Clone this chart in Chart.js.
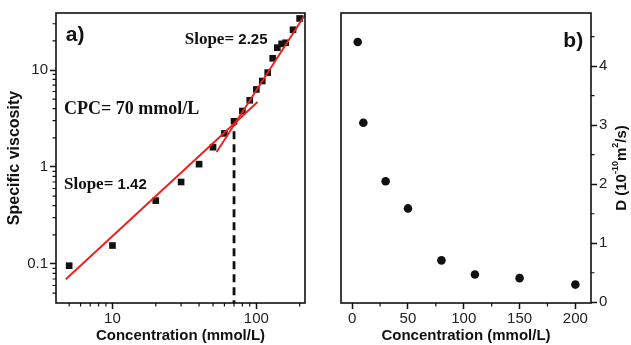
<!DOCTYPE html>
<html>
<head>
<meta charset="utf-8">
<script src="https://cdn.jsdelivr.net/npm/chart.js@4"></script>
<style>
  html, body { margin: 0; padding: 0; background: #fff; }
  #wrap { position: relative; width: 631px; height: 345px; }
  canvas { position: absolute; top: 0; }
  #chartA { left: 0; }
  #chartB { left: 320px; }
</style>
</head>
<body>
<div id="wrap">
  <canvas id="chartA" width="320" height="345"></canvas>
  <canvas id="chartB" width="311" height="345"></canvas>
</div>
<script>
// panel a) specific viscosity vs concentration (log-log)
const concA = [5, 10, 20, 30, 40, 50, 60, 70, 80, 90, 100, 110, 120, 130, 140, 150, 160, 180, 200];
const viscA = [0.096, 0.155, 0.45, 0.70, 1.07, 1.6, 2.22, 2.96, 3.78, 4.87, 6.3, 7.7, 9.4, 13.2, 17, 18.6, 19.1, 26, 34];
const fitLowX = [4.74, 102], fitLowY = [0.0695, 4.68];
const fitHighX = [53, 230], fitHighY = [1.43, 42];
const cpcX = [70, 70], cpcY = [0.035, 2.9];
const xTicksA = [10, 100];
const yTicksA = [0.1, 1, 10];
const xMinorA = [5, 6, 7, 8, 9, 20, 30, 40, 50, 60, 70, 80, 90, 200];
const yMinorA = [0.05, 0.06, 0.07, 0.08, 0.09, 0.2, 0.3, 0.4, 0.5, 0.6, 0.7, 0.8, 0.9, 2, 3, 4, 5, 6, 7, 8, 9, 20, 30];

// panel b) diffusion coefficient vs concentration
const concB = [5, 10, 30, 50, 80, 110, 150, 200];
const diffB = [4.41, 3.04, 2.05, 1.59, 0.71, 0.47, 0.41, 0.30];
const xTicksB = [0, 50, 100, 150, 200];
const yTicksB = [0, 1, 2, 3, 4];
const xMinorB = [25, 75, 125, 175];
const yMinorB = [0.5, 1.5, 2.5, 3.5, 4.5];

const INK = '#111';
const RED = '#f01e1a';
const SANS = '"Liberation Sans", Arial, sans-serif';
const SERIF = '"Liberation Serif", "Times New Roman", serif';
Chart.defaults.font.family = SANS;
Chart.defaults.color = '#222';

const pts = (xs, ys) => xs.map((x, i) => ({ x, y: ys[i] }));

// box round the plot area + short minor ticks
const framePlugin = {
  id: 'frame',
  afterDatasetsDraw(chart) {
    const { ctx, chartArea: a } = chart;
    ctx.save();
    ctx.strokeStyle = INK; ctx.lineWidth = 1.6;
    ctx.strokeRect(a.left, a.top, a.right - a.left, a.bottom - a.top);
    ctx.restore();
  },
  afterDraw(chart, args, opts) {
    const { ctx, chartArea: a, scales } = chart;
    ctx.save();
    ctx.strokeStyle = INK; ctx.lineWidth = 1.2;
    ctx.beginPath();
    (opts.x || []).forEach(v => {
      const px = scales.x.getPixelForValue(v);
      ctx.moveTo(px, a.bottom); ctx.lineTo(px, a.bottom + 3.5);
    });
    const right = scales.y.position === 'right';
    (opts.y || []).forEach(v => {
      const py = scales.y.getPixelForValue(v);
      if (right) { ctx.moveTo(a.right, py); ctx.lineTo(a.right + 3.5, py); }
      else { ctx.moveTo(a.left, py); ctx.lineTo(a.left - 3.5, py); }
    });
    ctx.stroke();
    ctx.restore();
  }
};

// text notes anchored at data coordinates
const notesPlugin = {
  id: 'notes',
  afterDraw(chart, args, opts) {
    const { ctx, scales } = chart;
    (opts.items || []).forEach(n => {
      let x = scales.x.getPixelForValue(n.x);
      const y = scales.y.getPixelForValue(n.y);
      ctx.save();
      ctx.fillStyle = INK;
      ctx.textBaseline = 'middle';
      let total = 0;
      n.parts.forEach(p => { ctx.font = p.font; total += ctx.measureText(p.t).width; });
      if (n.align === 'right') x -= total;
      n.parts.forEach(p => {
        ctx.font = p.font;
        ctx.fillText(p.t, x, y);
        x += ctx.measureText(p.t).width;
      });
      ctx.restore();
    });
  }
};

const axisGrid = { display: true, drawOnChartArea: false, drawTicks: true, tickLength: 6, tickColor: INK, tickWidth: 1.5 };
const tickFont = { size: 15 };
const titleFont = { size: 15, weight: 'bold' };

new Chart(document.getElementById('chartA'), {
  type: 'scatter',
  data: {
    datasets: [
      { data: pts(fitLowX, fitLowY), showLine: true, borderColor: RED, borderWidth: 1.9, pointRadius: 0 },
      { data: pts(fitHighX, fitHighY), showLine: true, borderColor: RED, borderWidth: 1.9, pointRadius: 0 },
      { data: pts(cpcX, cpcY), showLine: true, borderColor: INK, borderWidth: 2.8, borderDash: [8, 5], pointRadius: 0 },
      { data: pts(concA, viscA), pointStyle: 'rect', pointRadius: 4.7, backgroundColor: INK, borderWidth: 0 }
    ]
  },
  options: {
    responsive: false,
    animation: false,
    layout: { padding: { top: 13, right: 15, left: 0, bottom: 0 } },
    plugins: {
      legend: { display: false }, tooltip: { enabled: false },
      frame: { x: xMinorA, y: yMinorA },
      notes: { items: [
        { x: 4.74, y: 23, parts: [{ t: 'a)', font: 'bold 21px ' + SANS }] },
        { x: 31.8, y: 20.4, parts: [{ t: 'Slope= ', font: 'bold 17px ' + SERIF }, { t: '2.25', font: 'bold 15px ' + SANS }] },
        { x: 4.6, y: 3.9, parts: [{ t: 'CPC= 70 mmol/L', font: 'bold 18px ' + SERIF }] },
        { x: 4.6, y: 0.66, parts: [{ t: 'Slope= ', font: 'bold 17px ' + SERIF }, { t: '1.42', font: 'bold 15px ' + SANS }] }
      ] }
    },
    scales: {
      x: {
        type: 'logarithmic', min: 4.05, max: 218,
        grid: axisGrid, border: { display: false },
        afterBuildTicks: s => { s.ticks = xTicksA.map(v => ({ value: v })); },
        afterFit: s => { s.height = 42; },
        ticks: { font: tickFont, padding: 1, maxRotation: 0, callback: v => String(v) },
        title: { display: true, text: 'Concentration (mmol/L)', font: titleFont, color: INK, padding: { top: 0, bottom: 0 } }
      },
      y: {
        type: 'logarithmic', min: 0.0396, max: 38.7,
        grid: axisGrid, border: { display: false },
        afterBuildTicks: s => { s.ticks = yTicksA.map(v => ({ value: v })); },
        afterFit: s => { s.width = 56; },
        ticks: { font: tickFont, padding: 2, callback: v => String(v) },
        title: { display: true, text: 'Specific viscosity', font: { size: 16, weight: 'bold' }, color: INK, padding: { top: 5, bottom: 0 } }
      }
    }
  },
  plugins: [framePlugin, notesPlugin]
});

// right-hand title with superscripts, read bottom to top
const dTitlePlugin = {
  id: 'dTitle',
  afterDraw(chart) {
    const { ctx, chartArea: a } = chart;
    const parts = [
      { t: 'D (10', sup: false }, { t: '-10', sup: true }, { t: 'm', sup: false },
      { t: '2', sup: true }, { t: '/s)', sup: false }
    ];
    const big = 'bold 15px ' + SANS, small = 'bold 9px ' + SANS;
    ctx.save();
    let total = 0;
    parts.forEach(p => { ctx.font = p.sup ? small : big; total += ctx.measureText(p.t).width; });
    ctx.translate(a.right + 31, (a.top + a.bottom) / 2 + 10);
    ctx.rotate(-Math.PI / 2);
    ctx.fillStyle = INK;
    ctx.textBaseline = 'middle';
    let x = -total / 2;
    parts.forEach(p => {
      ctx.font = p.sup ? small : big;
      ctx.fillText(p.t, x, p.sup ? -6 : 0);
      x += ctx.measureText(p.t).width;
    });
    ctx.restore();
  }
};

new Chart(document.getElementById('chartB'), {
  type: 'scatter',
  data: {
    datasets: [
      { data: pts(concB, diffB), pointStyle: 'circle', pointRadius: 4.3, backgroundColor: INK, borderWidth: 0 }
    ]
  },
  options: {
    responsive: false,
    animation: false,
    layout: { padding: { top: 13, right: 0, left: 21, bottom: 0 } },
    plugins: {
      legend: { display: false }, tooltip: { enabled: false },
      frame: { x: xMinorB, y: yMinorB },
      notes: { items: [
        { x: 207, y: 4.43, align: 'right', parts: [{ t: 'b)', font: 'bold 21px ' + SANS }] }
      ] }
    },
    scales: {
      x: {
        type: 'linear', min: -10, max: 214,
        grid: axisGrid, border: { display: false },
        afterBuildTicks: s => { s.ticks = xTicksB.map(v => ({ value: v })); },
        afterFit: s => { s.height = 42; },
        ticks: { font: tickFont, padding: 1, maxRotation: 0 },
        title: { display: true, text: 'Concentration (mmol/L)', font: titleFont, color: INK, padding: { top: 0, bottom: 0 } }
      },
      y: {
        type: 'linear', position: 'right', min: -0.012, max: 4.9,
        grid: axisGrid, border: { display: false },
        afterBuildTicks: s => { s.ticks = yTicksB.map(v => ({ value: v })); },
        afterFit: s => { s.width = 40; },
        ticks: { font: tickFont, padding: 2 },
        title: { display: false }
      }
    }
  },
  plugins: [framePlugin, notesPlugin, dTitlePlugin]
});
</script>
</body>
</html>
